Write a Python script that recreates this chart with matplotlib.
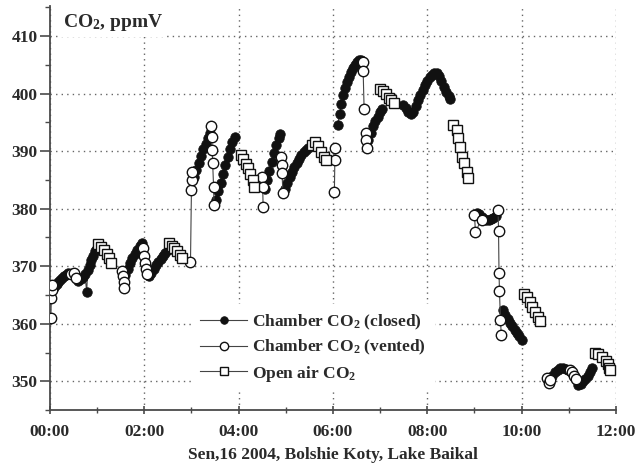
import numpy as np
import matplotlib
matplotlib.use("Agg")
import matplotlib.pyplot as plt
from matplotlib.ticker import MultipleLocator, FuncFormatter

plt.rcParams['font.family'] = ['Liberation Serif', 'DejaVu Serif']
plt.rcParams['font.weight'] = 'bold'
plt.rcParams['mathtext.fontset'] = 'custom'
plt.rcParams['mathtext.rm'] = 'Liberation Serif:bold'
plt.rcParams['mathtext.default'] = 'rm'

nan = np.nan

# time in hours, NaN splits the separate measurement runs
closed_t = [0.02, 0.06, 0.1, 0.14, 0.18, 0.22, 0.26, 0.3, 0.34, 0.38, nan,
            0.6, 0.65, 0.7, 0.74, 0.78, 0.8, 0.84, 0.88, 0.92, 0.96, 1.0, nan,
            1.6, 1.65, 1.7, 1.75, 1.8, 1.85, 1.9, 1.95, nan,
            2.1, 2.15, 2.2, 2.25, 2.3, 2.35, 2.4, 2.45, 2.5, nan,
            3.05, 3.1, 3.15, 3.2, 3.25, 3.3, 3.35, 3.4, nan,
            3.52, 3.57, 3.62, 3.67, 3.72, 3.77, 3.82, 3.87, 3.92, nan,
            4.56, 4.6, 4.65, 4.7, 4.75, 4.8, 4.85, 4.88, nan,
            4.98, 5.03, 5.08, 5.13, 5.18, 5.23, 5.28, 5.33, 5.38, 5.43, 5.48, nan,
            6.1, 6.14, 6.18, 6.22, 6.26, 6.3, 6.34, 6.38, 6.42, 6.46, 6.5, 6.55, 6.6, nan,
            6.75, 6.8, 6.85, 6.9, 6.95, 7.0, 7.04, nan,
            7.48, 7.55, 7.6, 7.65, 7.7, 7.75, 7.8, 7.85, 7.9, 7.95, 8.0, 8.05, 8.1,
            8.15, 8.2, 8.25, 8.3, 8.35, 8.4, 8.45, 8.48, nan,
            9.05, 9.1, 9.15, 9.2, 9.25, 9.3, 9.35, 9.4, 9.45, nan,
            9.6, 9.65, 9.7, 9.75, 9.8, 9.85, 9.9, 9.95, 10.0, nan,
            10.64, 10.7, 10.76, 10.82, 10.88, 10.94, 10.98, nan,
            11.2, 11.25, 11.3, 11.35, 11.4, 11.45, 11.5]
closed_v = [364.5, 366.0, 366.5, 366.9, 367.3, 367.6, 368.0, 368.3, 368.5, 368.8, nan,
            367.5, 367.8, 368.2, 368.6, 365.6, 369.4, 370.2, 371.0, 371.8, 372.6, 373.2, nan,
            368.5, 369.5, 370.5, 371.4, 372.2, 372.9, 373.5, 374.0, nan,
            368.3, 368.8, 369.5, 370.2, 370.8, 371.3, 371.8, 372.3, 372.8, nan,
            385.5, 386.8, 388.0, 389.2, 390.3, 391.3, 392.3, 393.2, nan,
            381.5, 383.0, 384.5, 386.0, 387.5, 389.0, 390.3, 391.5, 392.5, nan,
            383.5, 385.0, 386.6, 388.1, 389.6, 391.0, 392.2, 393.0, nan,
            383.5, 384.5, 385.5, 386.4, 387.2, 388.0, 388.7, 389.3, 389.8, 390.2, 390.5, nan,
            394.5, 396.5, 398.2, 399.8, 401.0, 402.0, 402.9, 403.7, 404.4, 405.0, 405.5, 405.9, 405.8, nan,
            392.0, 393.2, 394.3, 395.2, 396.0, 396.8, 397.4, nan,
            398.0, 397.5, 396.8, 396.4, 396.8, 397.8, 398.8, 399.8, 400.7, 401.5, 402.2, 402.8, 403.3,
            403.6, 403.5, 403.0, 402.2, 401.2, 400.2, 399.5, 399.1, nan,
            379.2, 379.0, 378.6, 378.2, 378.0, 378.0, 378.2, 378.4, 378.8, nan,
            362.4, 361.6, 360.8, 360.2, 359.6, 359.0, 358.4, 357.8, 357.2, nan,
            351.0, 351.6, 352.0, 352.3, 352.4, 352.2, 352.0, nan,
            349.4, 349.6, 350.0, 350.4, 351.0, 351.7, 352.4]

vented_t = [0.02, 0.03, 0.04, 0.05, nan,
            0.45, 0.5, 0.56, nan,
            1.52, 1.54, 1.56, 1.58, nan,
            1.98, 2.0, 2.02, 2.03, 2.05, nan,
            2.98, 3.0, 3.01, 3.02, nan,
            3.42, 3.43, 3.44, 3.45, 3.47, 3.48, nan,
            4.5, 4.51, 4.52, nan,
            4.9, 4.91, 4.92, 4.94, nan,
            6.03, 6.04, 6.05, nan,
            6.63, 6.64, 6.66, nan,
            6.7, 6.71, 6.72, nan,
            9.0, 9.02, 9.15, nan,
            9.5, 9.51, 9.52, 9.53, 9.55, 9.57, nan,
            10.54, 10.57, 10.6, nan,
            11.02, 11.06, 11.1, 11.15]
vented_v = [361.0, 364.5, 365.8, 366.8, nan,
            368.6, 368.9, 367.9, nan,
            369.2, 368.3, 367.2, 366.3, nan,
            373.2, 371.7, 370.6, 369.5, 368.7, nan,
            370.8, 383.3, 384.9, 386.4, nan,
            394.4, 392.4, 390.2, 387.9, 383.7, 380.6, nan,
            385.5, 383.7, 380.3, nan,
            389.0, 387.6, 386.2, 382.7, nan,
            382.9, 388.4, 390.5, nan,
            405.4, 403.9, 397.4, nan,
            393.1, 391.9, 390.5, nan,
            378.9, 376.0, 378.1, nan,
            379.7, 376.1, 368.8, 365.7, 360.6, 358.0, nan,
            350.6, 349.8, 350.3, nan,
            352.0, 351.6, 351.0, 350.4]

openair_t = [1.02, 1.08, 1.14, 1.2, 1.26, 1.3, nan,
             2.52, 2.58, 2.64, 2.7, 2.76, 2.8, nan,
             4.05, 4.1, 4.15, 4.2, 4.25, 4.3, 4.33, nan,
             5.55, 5.62, 5.68, 5.74, 5.8, 5.86, nan,
             7.0, 7.06, 7.12, 7.18, 7.24, 7.3, nan,
             8.55, 8.62, 8.66, 8.7, 8.74, 8.78, 8.84, 8.86, nan,
             10.05, 10.12, 10.17, 10.22, 10.28, 10.34, 10.38, nan,
             11.55, 11.62, 11.7, 11.78, 11.82, 11.85, 11.88]
openair_v = [373.8, 373.4, 372.8, 372.2, 371.5, 370.6, nan,
             374.0, 373.6, 373.1, 372.6, 372.0, 371.5, nan,
             389.3, 388.6, 387.8, 387.0, 386.0, 384.9, 383.8, nan,
             391.0, 391.6, 390.8, 389.9, 389.0, 388.4, nan,
             400.8, 400.4, 399.9, 399.3, 398.8, 398.3, nan,
             394.5, 393.7, 392.3, 390.7, 389.0, 387.9, 386.3, 385.3, nan,
             365.2, 364.6, 363.7, 362.9, 362.0, 361.2, 360.5, nan,
             355.0, 354.7, 354.3, 353.6, 353.0, 352.4, 351.9]

txt = '#2a2a2a'
axc = '#4a4a4a'

fig = plt.figure(figsize=(6.4, 4.65), dpi=100)
ax = fig.add_axes([0.078, 0.118, 0.8845, 0.869])

ax.plot(closed_t, closed_v, color='#444444', lw=0.8, marker='o', ms=6.8,
        mfc='#111111', mec='#111111', mew=0.6, label='Chamber CO$_2$ (closed)', zorder=3)
ax.plot(vented_t, vented_v, color='#444444', lw=0.8, marker='o', ms=7.5,
        mfc='white', mec='#111111', mew=1.0, label='Chamber CO$_2$ (vented)', zorder=4)
ax.plot(openair_t, openair_v, color='#444444', lw=0.8, marker='s', ms=6.8,
        mfc='white', mec='#111111', mew=1.0, label='Open air CO$_2$', zorder=5)

ax.set_xlim(0, 12)
ax.set_ylim(345, 415.2)
ax.xaxis.set_major_locator(MultipleLocator(2))
ax.xaxis.set_minor_locator(MultipleLocator(1))
ax.yaxis.set_minor_locator(MultipleLocator(5))
ax.set_yticks(range(350, 411, 10))
ax.xaxis.set_major_formatter(FuncFormatter(lambda x, p: '%02d:00' % int(round(x))))

ax.grid(True, which='major', color='#666666', linestyle=(0, (1, 3)), lw=1.0, zorder=0)

for s in ['top', 'right']:
    ax.spines[s].set_visible(False)
for s in ['left', 'bottom']:
    ax.spines[s].set_color(axc)
    ax.spines[s].set_linewidth(1.3)

ax.tick_params(axis='x', which='major', direction='inout', length=6, width=1.2,
               color=axc, labelsize=12.5, labelcolor=txt, pad=7)
ax.tick_params(axis='x', which='minor', direction='inout', length=4, width=1.0, color=axc)
ax.tick_params(axis='y', which='major', direction='out', length=7, width=1.2,
               color=axc, labelsize=12.5, labelcolor=txt, pad=2)
ax.tick_params(axis='y', which='minor', direction='out', length=3.5, width=1.0, color=axc)

ax.set_xlabel('Sen,16 2004, Bolshie Koty, Lake Baikal', fontsize=12.5,
              fontweight='bold', color=txt, labelpad=5)

ax.text(0.023, 0.985, 'CO$_2$, ppmV', transform=ax.transAxes, fontsize=14,
        color=txt, va='top', ha='left', zorder=6,
        bbox=dict(facecolor='white', edgecolor='none', pad=3))

leg = ax.legend(loc='upper left', bbox_to_anchor=(0.25, 0.262), frameon=True,
                fontsize=12.5, handlelength=2.7, handletextpad=0.3, markerscale=0.8,
                labelspacing=0.35, borderpad=0.5, borderaxespad=0)
leg.get_frame().set_facecolor('white')
leg.get_frame().set_edgecolor('none')
leg.get_frame().set_alpha(1)
leg.set_zorder(7)
for t in leg.get_texts():
    t.set_color(txt)

fig.savefig('out.png', dpi=100, facecolor='white')
